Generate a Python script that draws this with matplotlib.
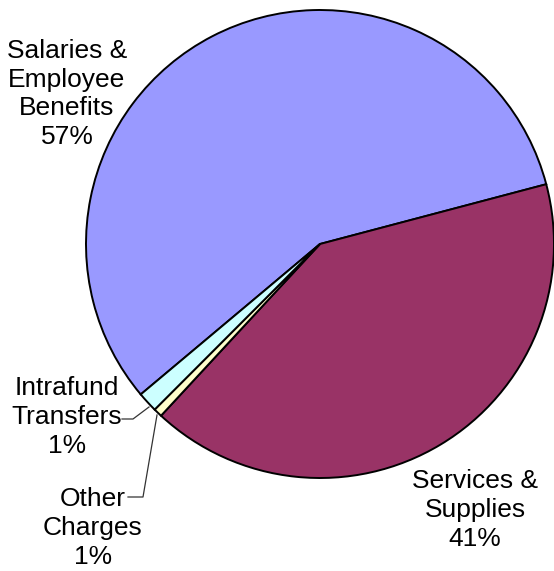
import matplotlib
matplotlib.use("Agg")
import matplotlib.pyplot as plt

plt.rcParams["font.family"] = ["Liberation Sans", "DejaVu Sans"]

# budget split by expenditure category (percent of total)
categories = ["Salaries &\nEmployee\nBenefits", "Services &\nSupplies",
              "Other\nCharges", "Intrafund\nTransfers"]
shares = [57.0, 41.0, 0.6, 1.4]
colors = ["#9999FF", "#993366", "#FFFFCC", "#CCFFFF"]

W, H = 554, 571
fig = plt.figure(figsize=(W / 100, H / 100), dpi=100)
ax = fig.add_axes([0, 0, 1, 1])

cx, cy, r = 320, H - 244, 234
ax.pie(shares, colors=colors, startangle=220, counterclock=False,
       center=(cx, cy), radius=r, frame=True,
       wedgeprops=dict(edgecolor="black", linewidth=1.4))
ax.set_xlim(0, W)
ax.set_ylim(0, H)
ax.set_aspect("equal")
ax.axis("off")

total = sum(shares)
label_pos = [(67, 94), (475, 510), (93, 528), (67, 417)]
for name, val, (x, y) in zip(categories, shares, label_pos):
    ax.text(x, H - y, f"{name}\n{val / total * 100:.0f}%", ha="center", va="center",
            fontsize=19, linespacing=1.24, color="black")

# leader lines for the two thin slices
ax.plot([122, 133, 149], [H - 419, H - 419, H - 407], color="#333333", lw=0.9)
ax.plot([128, 143, 157], [H - 497, H - 497, H - 415], color="#333333", lw=0.9)

fig.savefig("out.png", dpi=100)
